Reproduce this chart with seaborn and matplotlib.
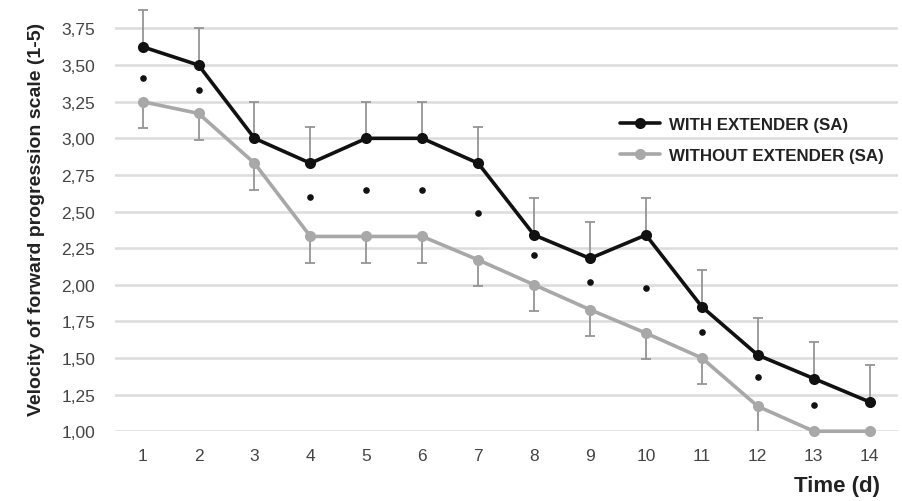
import numpy as np
import pandas as pd
import seaborn as sns
import matplotlib.pyplot as plt
from matplotlib.ticker import FuncFormatter

days = list(range(1, 15))
with_ext = [3.625, 3.50, 3.00, 2.83, 3.00, 3.00, 2.83, 2.34, 2.18, 2.34, 1.85, 1.52, 1.36, 1.20]
with_err = [0.25] * 14
without_ext = [3.25, 3.17, 2.83, 2.33, 2.33, 2.33, 2.17, 2.00, 1.83, 1.67, 1.50, 1.17, 1.00, 1.00]
without_err = [0.18] * 14
signif = [3.41, 3.33, np.nan, 2.60, 2.65, 2.65, 2.49, 2.20, 2.02, 1.98, 1.68, 1.37, 1.18, np.nan]

lab_with = "WITH EXTENDER (SA)"
lab_without = "WITHOUT EXTENDER (SA)"

df = pd.DataFrame({
    "day": days * 2,
    "value": with_ext + without_ext,
    "group": [lab_with] * 14 + [lab_without] * 14,
})

sns.set_style("white")
plt.rcParams["font.family"] = ["Liberation Sans", "DejaVu Sans"]

fig = plt.figure(figsize=(9.03, 5.02), dpi=100)
ax = fig.add_axes([0.127, 0.139, 0.867, 0.846])

black = "#111111"
grey = "#a8a8a8"
errc = "#959595"

# error bars (upper for WITH, lower for WITHOUT)
ax.errorbar(days, with_ext, yerr=[np.zeros(14), with_err], fmt="none",
            ecolor=errc, elinewidth=1.3, capsize=3.5, capthick=1.3, zorder=2)
ax.errorbar(days, without_ext, yerr=[without_err, np.zeros(14)], fmt="none",
            ecolor=errc, elinewidth=1.3, capsize=3.5, capthick=1.3, zorder=2)

sns.lineplot(data=df, x="day", y="value", hue="group", marker="o",
             palette={lab_with: black, lab_without: grey},
             linewidth=2.6, markersize=8, markeredgewidth=0,
             errorbar=None, ax=ax, zorder=3, clip_on=False)

ax.scatter(days, signif, s=14, color=black, zorder=4)

ax.set_xlim(0.5, 14.5)
ax.set_ylim(1.0, 3.9)
ax.set_xticks(days)
ax.set_yticks(np.arange(1.0, 3.76, 0.25))
ax.yaxis.set_major_formatter(FuncFormatter(lambda v, p: f"{v:.2f}".replace(".", ",")))
ax.grid(axis="y", color="#dcdcdc", linewidth=1.8)
ax.set_axisbelow(True)
for s in ax.spines.values():
    s.set_visible(False)
ax.tick_params(axis="both", length=0, labelsize=12.5, labelcolor="#444444")
ax.tick_params(axis="y", pad=14)
ax.tick_params(axis="x", pad=12)

ax.set_xlabel("")
ax.set_ylabel("Velocity of forward progression scale (1-5)", fontsize=14,
              fontweight="bold", color="#222222", labelpad=12)
fig.text(0.975, 0.03, "Time (d)", ha="right", va="center", fontsize=16,
         fontweight="bold", color="#222222")

leg = ax.legend(loc="upper left", bbox_to_anchor=(0.645, 0.74), frameon=False,
                borderpad=0, borderaxespad=0,
                handlelength=2.4, handletextpad=0.5, labelspacing=0.95,
                prop={"weight": "bold", "size": 12.2})
for t in leg.get_texts():
    t.set_color("#222222")

fig.savefig("out.png", dpi=100)
